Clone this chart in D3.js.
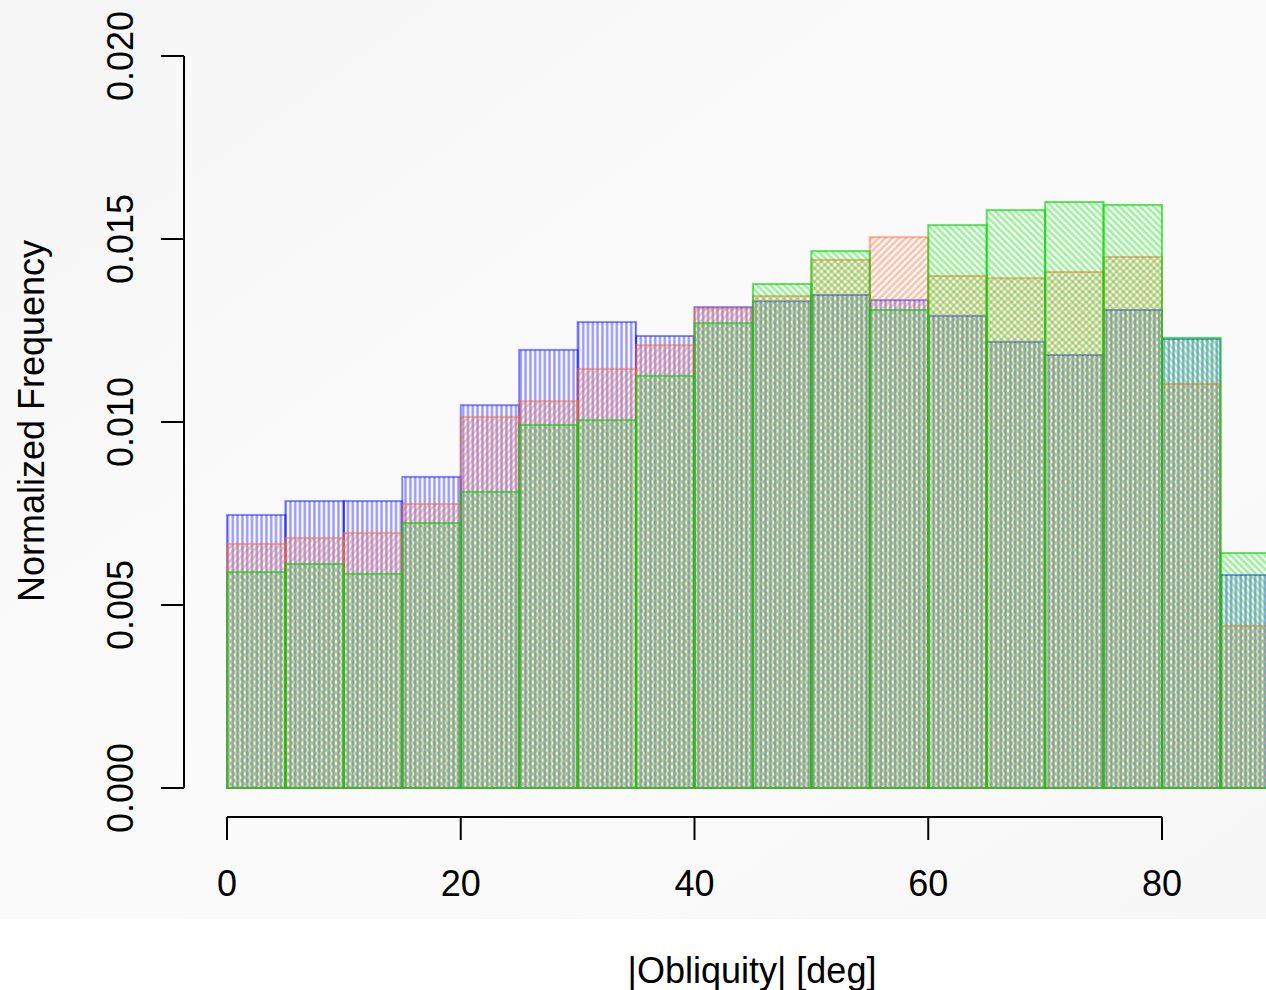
<!DOCTYPE html>
<html>
<head>
<meta charset="utf-8">
<script src="https://cdn.jsdelivr.net/npm/d3@7"></script>
<style>
  html, body { margin: 0; padding: 0; background: #ffffff; }
  svg { display: block; }
  text { font-family: "Liberation Sans", Arial, Helvetica, sans-serif; fill: #000; }
</style>
</head>
<body>
<svg id="chart" width="1266" height="990"></svg>
<script>
// Histogram bins: 5-degree bins from 0 to 90
const binEdges = [0, 5, 10, 15, 20, 25, 30, 35, 40, 45, 50, 55, 60, 65, 70, 75, 80, 85, 90];

// Normalized frequency per bin, one array per sample (drawn in this order)
const blueValues = [0.00746, 0.00784, 0.00784, 0.00850, 0.01046, 0.01197, 0.01273, 0.01235, 0.01314,
                    0.01330, 0.01347, 0.01333, 0.01290, 0.01219, 0.01183, 0.01306, 0.01227, 0.00582];
const redValues  = [0.00667, 0.00683, 0.00697, 0.00776, 0.01014, 0.01057, 0.01145, 0.01210, 0.01310,
                    0.01344, 0.01443, 0.01505, 0.01399, 0.01393, 0.01410, 0.01451, 0.01104, 0.00443];
const greenValues = [0.00590, 0.00612, 0.00585, 0.00724, 0.00809, 0.00992, 0.01005, 0.01126, 0.01270,
                     0.01377, 0.01467, 0.01306, 0.01538, 0.01579, 0.01601, 0.01593, 0.01230, 0.00642];

const xTicks = [0, 20, 40, 60, 80];
const yTicks = [0.000, 0.005, 0.010, 0.015, 0.020];
const yTickLabels = ["0.000", "0.005", "0.010", "0.015", "0.020"];

const svg = d3.select("#chart");

const x = d3.scaleLinear().domain([0, 80]).range([227, 1162]);
const y = d3.scaleLinear().domain([0, 0.02]).range([788, 56]);

const defs = svg.append("defs");

// soft grey backdrop behind the plotting region
const bg = defs.append("linearGradient").attr("id", "bgGrad")
  .attr("x1", "0%").attr("y1", "0%").attr("x2", "100%").attr("y2", "100%");
bg.append("stop").attr("offset", "0%").attr("stop-color", "#f6f6f6");
bg.append("stop").attr("offset", "55%").attr("stop-color", "#fbfbfb");
bg.append("stop").attr("offset", "100%").attr("stop-color", "#f7f7f7");
svg.append("rect").attr("x", 0).attr("y", 0).attr("width", 1266).attr("height", 919)
  .attr("fill", "url(#bgGrad)");

// hatch patterns (shading lines) for each sample
const series = [
  { id: "hBlue",  values: blueValues,  angle: 0,   line: "rgba(0,0,255,0.42)",   border: "rgba(0,0,255,0.45)" },
  { id: "hRed",   values: redValues,   angle: 45,  line: "rgba(255,105,45,0.45)", border: "rgba(255,105,45,0.5)" },
  { id: "hGreen", values: greenValues, angle: -45, line: "rgba(0,230,0,0.44)",   border: "rgba(0,210,0,0.6)" }
];
const spacing = 4.8;

series.forEach(s => {
  const p = defs.append("pattern")
    .attr("id", s.id)
    .attr("patternUnits", "userSpaceOnUse")
    .attr("width", spacing).attr("height", spacing)
    .attr("patternTransform", `rotate(${s.angle})`);
  p.append("line")
    .attr("x1", spacing / 2).attr("y1", -1)
    .attr("x2", spacing / 2).attr("y2", spacing + 1)
    .attr("stroke", s.line)
    .attr("stroke-width", 2.2);
});

// bars
series.forEach(s => {
  svg.append("g").selectAll("rect")
    .data(s.values)
    .join("rect")
    .attr("x", (d, i) => x(binEdges[i]))
    .attr("y", d => y(d))
    .attr("width", (d, i) => x(binEdges[i + 1]) - x(binEdges[i]))
    .attr("height", d => y(0) - y(d))
    .attr("fill", `url(#${s.id})`)
    .attr("stroke", s.border)
    .attr("stroke-width", 2);
});

// y axis
const yAxis = svg.append("g");
yAxis.append("line")
  .attr("x1", 184).attr("x2", 184)
  .attr("y1", y(0.02)).attr("y2", y(0))
  .attr("stroke", "#000").attr("stroke-width", 2);
yAxis.selectAll("line.tick").data(yTicks).join("line")
  .attr("class", "tick")
  .attr("x1", 161).attr("x2", 184)
  .attr("y1", d => y(d)).attr("y2", d => y(d))
  .attr("stroke", "#000").attr("stroke-width", 2);
yAxis.selectAll("text").data(yTicks).join("text")
  .attr("transform", d => `translate(133,${y(d)}) rotate(-90)`)
  .attr("text-anchor", "middle")
  .attr("font-size", 36)
  .text((d, i) => yTickLabels[i]);

// x axis
const xAxis = svg.append("g");
xAxis.append("line")
  .attr("x1", x(0)).attr("x2", x(80))
  .attr("y1", 817).attr("y2", 817)
  .attr("stroke", "#000").attr("stroke-width", 2);
xAxis.selectAll("line.tick").data(xTicks).join("line")
  .attr("class", "tick")
  .attr("x1", d => x(d)).attr("x2", d => x(d))
  .attr("y1", 817).attr("y2", 840)
  .attr("stroke", "#000").attr("stroke-width", 2);
xAxis.selectAll("text").data(xTicks).join("text")
  .attr("x", d => x(d)).attr("y", 896)
  .attr("text-anchor", "middle")
  .attr("font-size", 36)
  .text(d => d);

// axis titles
svg.append("text")
  .attr("x", 752).attr("y", 983)
  .attr("text-anchor", "middle")
  .attr("font-size", 36)
  .text("|Obliquity| [deg]");
svg.append("text")
  .attr("transform", "translate(44,421) rotate(-90)")
  .attr("text-anchor", "middle")
  .attr("font-size", 36)
  .text("Normalized Frequency");
</script>
</body>
</html>
